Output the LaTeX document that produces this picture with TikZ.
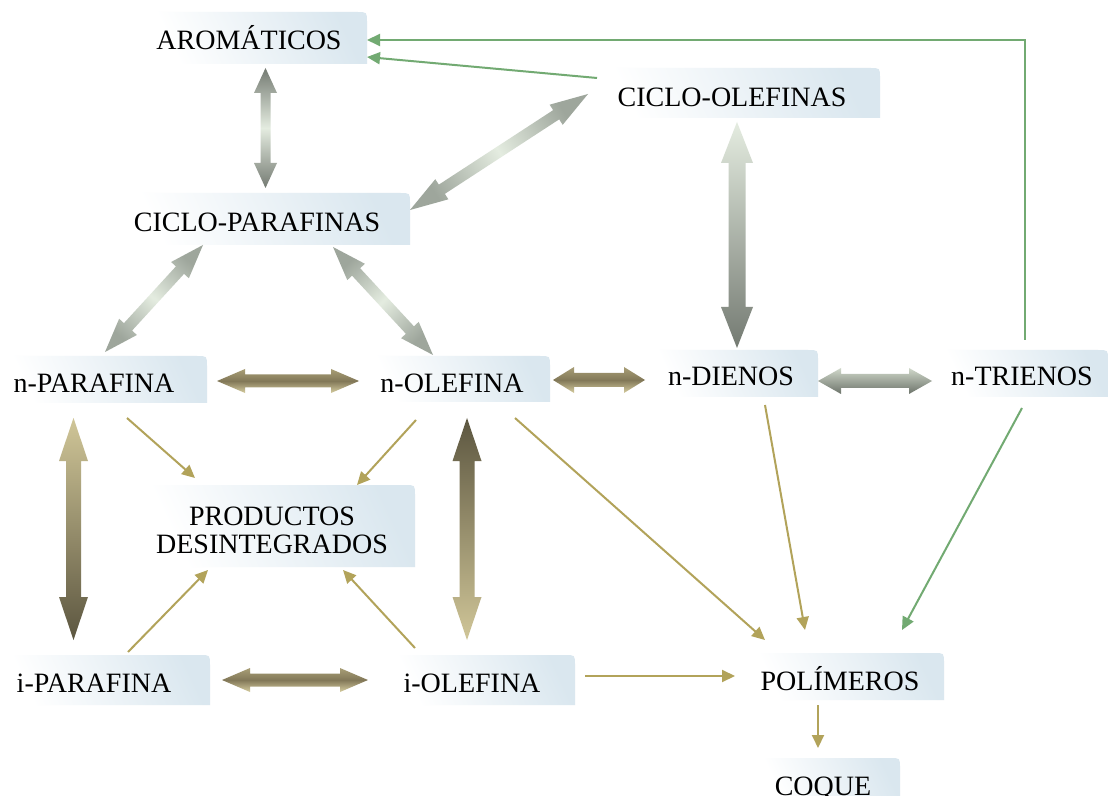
\documentclass[tikz,border=0pt]{standalone}
\usepackage{fontspec}
\setmainfont{Liberation Serif}
\usetikzlibrary{arrows.meta}
\definecolor{olivethin}{RGB}{178,163,90}
\definecolor{greenthin}{RGB}{114,170,114}
\definecolor{boxblue}{RGB}{218,231,239}
\definecolor{graydark}{RGB}{116,122,114}
\definecolor{graymid}{RGB}{158,166,156}
\definecolor{graylight}{RGB}{228,236,224}
\definecolor{tanlight}{RGB}{208,198,152}
\definecolor{tandark}{RGB}{92,86,64}
\definecolor{olvtop}{RGB}{168,158,118}
\definecolor{olvmid}{RGB}{130,120,88}
\definecolor{olvbot}{RGB}{214,205,160}
\definecolor{grtop}{RGB}{208,216,202}
\definecolor{grbot}{RGB}{108,115,106}
\newcommand\fatarrow[6]{%
  \pgfpointanchor{#1}{center}\pgfgetlastxy{\fax}{\fay}%
  \pgfpointanchor{#2}{center}\pgfgetlastxy{\fbx}{\fby}%
  \pgfmathsetmacro\flen{veclen(\fbx-\fax,\fby-\fay)}%
  \pgfmathsetmacro\fang{atan2(\fby-\fay,\fbx-\fax)}%
  \pgfmathsetmacro\fphi{\fang-90}%
  \pgfmathsetmacro\fux{(\fbx-\fax)/\flen}%
  \pgfmathsetmacro\fuy{(\fby-\fay)/\flen}%
  \pgfmathsetmacro\fsw{#3*0.5}%
  \pgfmathsetmacro\fhw{#4*0.5}%
  \pgfmathsetmacro\fhl{#5*0.5}%
  \pgfmathsetmacro\fhe{\flen-\fhl}%
  \shade[#6] \fpt{0}{0} -- \fpt{\fhl}{\fhw} -- \fpt{\fhl}{\fsw} -- \fpt{\fhe}{\fsw}
    -- \fpt{\fhe}{\fhw} -- \fpt{\flen}{0} -- \fpt{\fhe}{-\fhw} -- \fpt{\fhe}{-\fsw}
    -- \fpt{\fhl}{-\fsw} -- \fpt{\fhl}{-\fhw} -- cycle;}
\def\fpt#1#2{({\fax+(#1)*\fux-(#2)*\fuy},{\fay+(#1)*\fuy+(#2)*\fux})}
\newcommand\bgbox[4]{%
  \shade[boxshade] (#1,#4) -- (#1,#2) -- ({#3-10},#2) .. controls (#3,#2) .. (#3,{#2+10}) -- (#3,#4) -- cycle;}
\begin{document}
\begin{tikzpicture}[x=0.5pt,y=-0.5pt,
  txt/.style={anchor=base, inner sep=0pt, font=\fontsize{14}{14}\selectfont},
  boxshade/.style={top color=boxblue, bottom color=white, shading angle=-65},
  olv/.style={draw=olivethin, line width=1pt, -{Triangle[length=6.5pt,width=6pt]}},
  grn/.style={draw=greenthin, line width=1pt, -{Triangle[length=6.5pt,width=6pt]}},
  grayshade/.style={top color=graydark, bottom color=graydark, middle color=graylight, shading angle=\fphi},
  diagshade/.style={top color=graymid, bottom color=graymid, middle color=graylight, shading angle=\fphi},
  olvshade/.style={top color=olvtop, bottom color=olvbot, middle color=olvmid}]
\useasboundingbox (0,0) rectangle (1108,796);
\fill[white] (0,0) rectangle (1108,796);
% boxes
\bgbox{150}{12}{367}{64}
\bgbox{598}{68}{880}{118}
\bgbox{125}{193}{410}{245}
\bgbox{6}{356}{207}{403}
\bgbox{372}{356}{550}{402}
\bgbox{656}{350}{818}{397}
\bgbox{944}{350}{1108}{397}
\bgbox{150}{485}{415}{567}
\bgbox{6}{655}{210}{705}
\bgbox{395}{655}{575}{705}
\bgbox{753}{653}{944}{700}
\bgbox{763}{758}{900}{800}
% nodes
\node[txt] (arom) at (249,50) {AROMÁTICOS};
\node[txt] (cole) at (732,107) {CICLO-OLEFINAS};
\node[txt] (cpar) at (257,232) {CICLO-PARAFINAS};
\node[txt] (npar) at (94,393) {n-PARAFINA};
\node[txt] (nole) at (452,393) {n-OLEFINA};
\node[txt] (ndie) at (731,386) {n-DIENOS};
\node[txt] (ntri) at (1022,386) {n-TRIENOS};
\node[txt, anchor=center, align=center] (prod) at (272,530) {PRODUCTOS\\DESINTEGRADOS};
\node[txt] (ipar) at (94,692) {i-PARAFINA};
\node[txt] (iole) at (472,692) {i-OLEFINA};
\node[txt] (poli) at (840,690) {POLÍMEROS};
\node[txt] (coque) at (823,795) {COQUE};
% fat arrow end points
\coordinate (f1a) at (265.5,68);  \coordinate (f1b) at (265.5,188);
\coordinate (f2a) at (588,94);    \coordinate (f2b) at (410,210);
\coordinate (f3a) at (203,245);   \coordinate (f3b) at (105,352);
\coordinate (f4a) at (333,247);   \coordinate (f4b) at (433,355);
\coordinate (f5a) at (737,122);   \coordinate (f5b) at (737,348);
\coordinate (f6a) at (217,381);   \coordinate (f6b) at (359,381);
\coordinate (f7a) at (553,380);   \coordinate (f7b) at (645,380);
\coordinate (f8a) at (818,381);   \coordinate (f8b) at (932,381);
\coordinate (f9a) at (73.5,418);  \coordinate (f9b) at (73.5,640);
\coordinate (f10a) at (467,418);  \coordinate (f10b) at (467,640);
\coordinate (f11a) at (222,680);  \coordinate (f11b) at (368,680);
\fatarrow{f1a}{f1b}{5}{11.5}{25}{grayshade}
\fatarrow{f2a}{f2b}{5.5}{12}{38}{diagshade}
\fatarrow{f3a}{f3b}{5.5}{12}{34}{diagshade}
\fatarrow{f4a}{f4b}{5.5}{12}{34}{diagshade}
\fatarrow{f5a}{f5b}{8.5}{16}{41}{top color=graydark, bottom color=graylight, shading angle=\fphi}
\fatarrow{f6a}{f6b}{6.5}{12}{28}{olvshade}
\fatarrow{f7a}{f7b}{7}{13}{21}{olvshade}
\fatarrow{f8a}{f8b}{7}{13}{23}{top color=grtop, bottom color=grbot}
\fatarrow{f9a}{f9b}{7.5}{14.5}{43}{top color=tandark, bottom color=tanlight, shading angle=\fphi}
\fatarrow{f10a}{f10b}{7.5}{14.5}{43}{top color=tanlight, bottom color=tandark, shading angle=\fphi}
\fatarrow{f11a}{f11b}{6.5}{12}{28}{olvshade}
% thin connectors
\coordinate (t1a) at (127,418); \coordinate (t1b) at (195,478);
\coordinate (t2a) at (416,420); \coordinate (t2b) at (357,485);
\coordinate (t3a) at (128,652); \coordinate (t3b) at (208,570);
\coordinate (t4a) at (415,648); \coordinate (t4b) at (343,570);
\coordinate (t5a) at (515,418); \coordinate (t5b) at (765,640);
\coordinate (t6a) at (765,405); \coordinate (t6b) at (805,630);
\coordinate (t7a) at (585,676); \coordinate (t7b) at (735,676);
\coordinate (t8a) at (818,705); \coordinate (t8b) at (818,748);
\coordinate (t9a) at (1022,408); \coordinate (t9b) at (902,630);
\coordinate (t10a) at (1025,340); \coordinate (t10b) at (367,40);
\coordinate (t11a) at (597,78); \coordinate (t11b) at (367,57);
\draw[olv] (t1a) -- (t1b);
\draw[olv] (t2a) -- (t2b);
\draw[olv] (t3a) -- (t3b);
\draw[olv] (t4a) -- (t4b);
\draw[olv] (t5a) -- (t5b);
\draw[olv] (t6a) -- (t6b);
\draw[olv] (t7a) -- (t7b);
\draw[olv] (t8a) -- (t8b);
\draw[grn] (t9a) -- (t9b);
\draw[grn] (t10a) |- (t10b);
\draw[grn] (t11a) -- (t11b);
\end{tikzpicture}
\end{document}
